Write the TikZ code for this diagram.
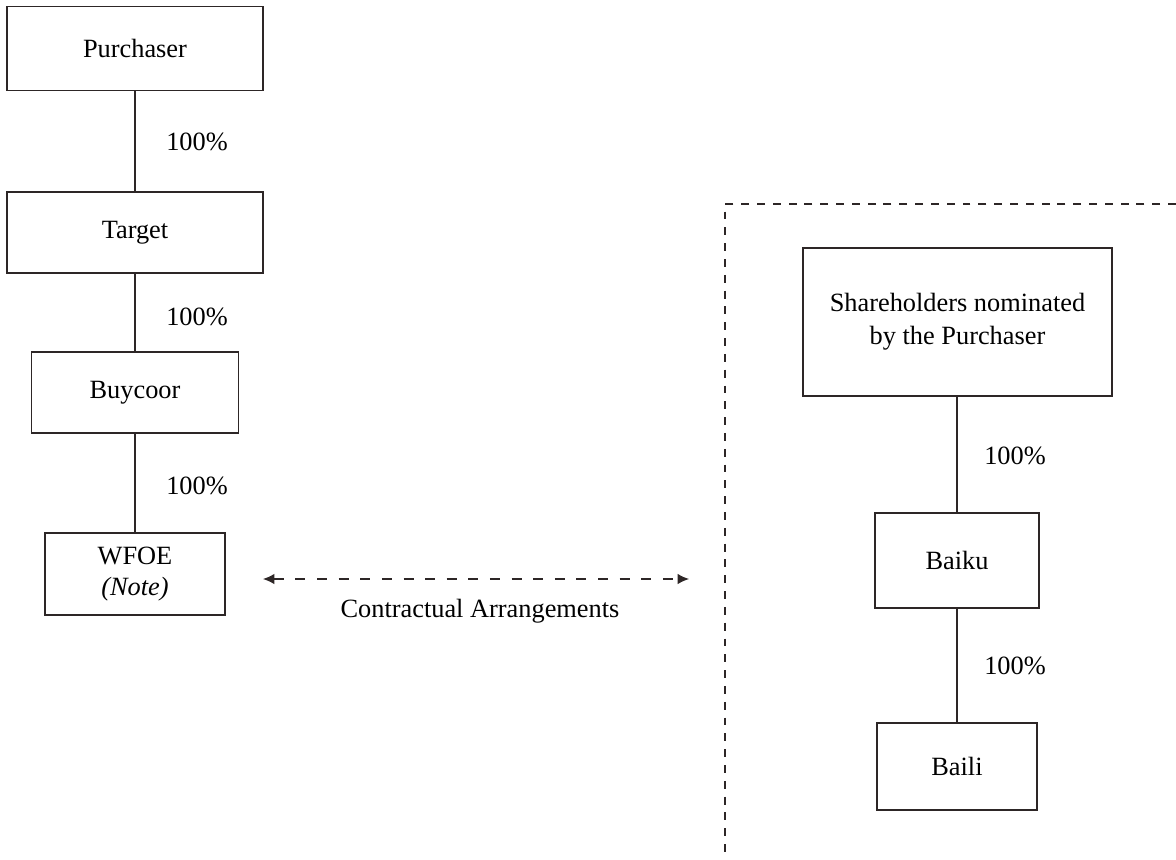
\documentclass[tikz,border=0pt]{standalone}
\usepackage{fontspec}
\setmainfont{Liberation Serif}
\usetikzlibrary{arrows.meta}
\definecolor{linegray}{RGB}{45,38,38}
\tikzset{>={Latex[length=6.5pt,width=6pt]}}
\tikzset{
  company/.style={draw=linegray, line width=0.65pt, outer sep=0pt, inner sep=0pt, align=center},
  owns/.style={draw=linegray, line width=0.65pt},
  share/.style={inner sep=0pt}
}

\begin{document}
\begin{tikzpicture}[x=0.02cm, y=-0.02cm, font=\fontsize{15}{19}\selectfont]
	%\draw[help lines] (0,0) grid (1176,859);
	\useasboundingbox (0,0) rectangle (1176,859);
	% left chain
	\node[company, minimum width=5.12cm, minimum height=1.68cm] (purchaser) at (135,48.5) {Purchaser};
	\node[company, minimum width=5.12cm, minimum height=1.62cm] (target) at (135,232.5) {Target};
	\node[company, minimum width=4.14cm, minimum height=1.62cm] (buycoor) at (135,392.5) {Buycoor};
	\node[company, minimum width=3.6cm, minimum height=1.64cm] (wfoe) at (135,574) {WFOE\\[-1pt]\textit{(Note)}};
	\draw[owns] (purchaser) -- (target);
	\draw[owns] (target) -- (buycoor);
	\draw[owns] (buycoor) -- (wfoe);
	\node[share] (p1) at (197,142) {100\%};
	\node[share] (p2) at (197,317) {100\%};
	\node[share] (p3) at (197,486) {100\%};
	% right chain
	\draw[linegray, line width=0.65pt, dash pattern=on 4.5pt off 4.5pt] (1176,204) -- (725,204) -- (725,859);
	\node[company, minimum width=6.18cm, minimum height=2.96cm] (nominees) at (957.5,322) {Shareholders nominated\\by the Purchaser};
	\node[company, minimum width=3.28cm, minimum height=1.9cm] (baiku) at (957,560.5) {Baiku};
	\node[company, minimum width=3.2cm, minimum height=1.74cm] (baili) at (957,766.5) {Baili};
	\draw[owns] (nominees.south -| baiku.north) -- (baiku.north);
	\draw[owns] (baiku) -- (baili);
	\node[share] (p4) at (1015,456) {100\%};
	\node[share] (p5) at (1015,666) {100\%};
	% contractual arrangements
	\coordinate (ca-left) at (263,579);
	\coordinate (ca-right) at (689,579);
	\draw[<->, linegray, line width=0.65pt, dash pattern=on 5.7pt off 6.6pt] (ca-left) -- (ca-right);
	\node (ca) at (480,611) {Contractual Arrangements};
\end{tikzpicture}
\end{document}
